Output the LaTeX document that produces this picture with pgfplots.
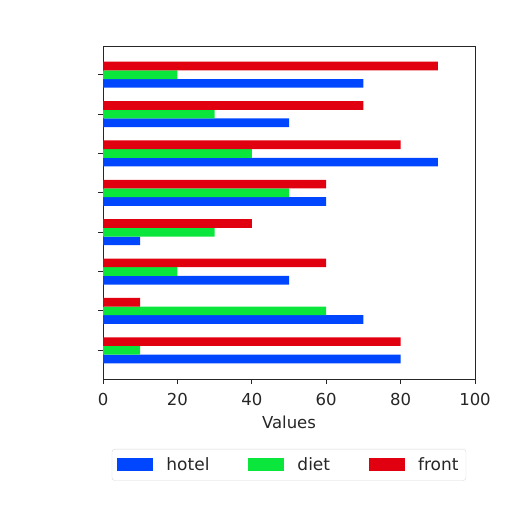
\documentclass[border=0pt]{standalone}
\usepackage{pgfplots}
\pgfplotsset{compat=1.18}
\usepackage{fontspec}
\setmainfont{DejaVu Sans}

\definecolor{hotelblue}{RGB}{0,70,255}
\definecolor{dietgreen}{RGB}{10,230,60}
\definecolor{frontred}{RGB}{225,0,15}

\begin{document}
\begin{tikzpicture}
    \useasboundingbox (0,0) rectangle (512bp,512bp);
    \begin{axis}[
        at={(103bp,133bp)},
        anchor=south west,
        scale only axis,
        width=372bp,
        height=333bp,
        xbar,
        bar width=0.22,
        xmin=0, xmax=100,
        ymin=-0.73, ymax=7.73,
        xtick={0,20,40,60,80,100},
        ytick={0,1,2,3,4,5,6,7},
        yticklabels={},
        tick align=outside,
        xtick pos=bottom,
        ytick pos=left,
        major tick length=5bp,
        axis line style={black!85, line width=0.9bp},
        tick style={black!85, line width=0.9bp},
        /pgf/number format/assume math mode=true,
        tick label style={font=\fontsize{16.5bp}{18bp}\selectfont, text=black!85},
        xticklabel style={yshift=-6bp},
        xlabel={Values},
        xlabel style={font=\fontsize{16.5bp}{18bp}\selectfont, text=black!85,
            at={(axis description cs:0.5,-0.150)}, anchor=base},
        legend columns=3,
        legend style={
            at={(0.5,-0.21)}, anchor=north,
            draw=black!15, rounded corners=3bp,
            font=\fontsize{17bp}{19bp}\selectfont,
            text=black!85,
            inner xsep=5.5bp, inner ysep=6.5bp,
            /tikz/every even column/.append style={column sep=37bp},
        },
        legend image code/.code={
            \fill[#1, sharp corners] (0bp,-6.5bp) rectangle (36bp,6.5bp);
            \path (47bp,0bp);
        },
    ]
        \addplot[draw=none, fill=hotelblue, bar shift=-0.22]
        coordinates {
            (80,0) (70,1) (50,2) (10,3) (60,4) (90,5) (50,6) (70,7)
        };
        \addlegendentry{hotel}
        \addplot[draw=none, fill=dietgreen, bar shift=0]
        coordinates {
            (10,0) (60,1) (20,2) (30,3) (50,4) (40,5) (30,6) (20,7)
        };
        \addlegendentry{diet}
        \addplot[draw=none, fill=frontred, bar shift=0.22]
        coordinates {
            (80,0) (10,1) (60,2) (40,3) (60,4) (80,5) (70,6) (90,7)
        };
        \addlegendentry{front}
    \end{axis}
\end{tikzpicture}
\end{document}
